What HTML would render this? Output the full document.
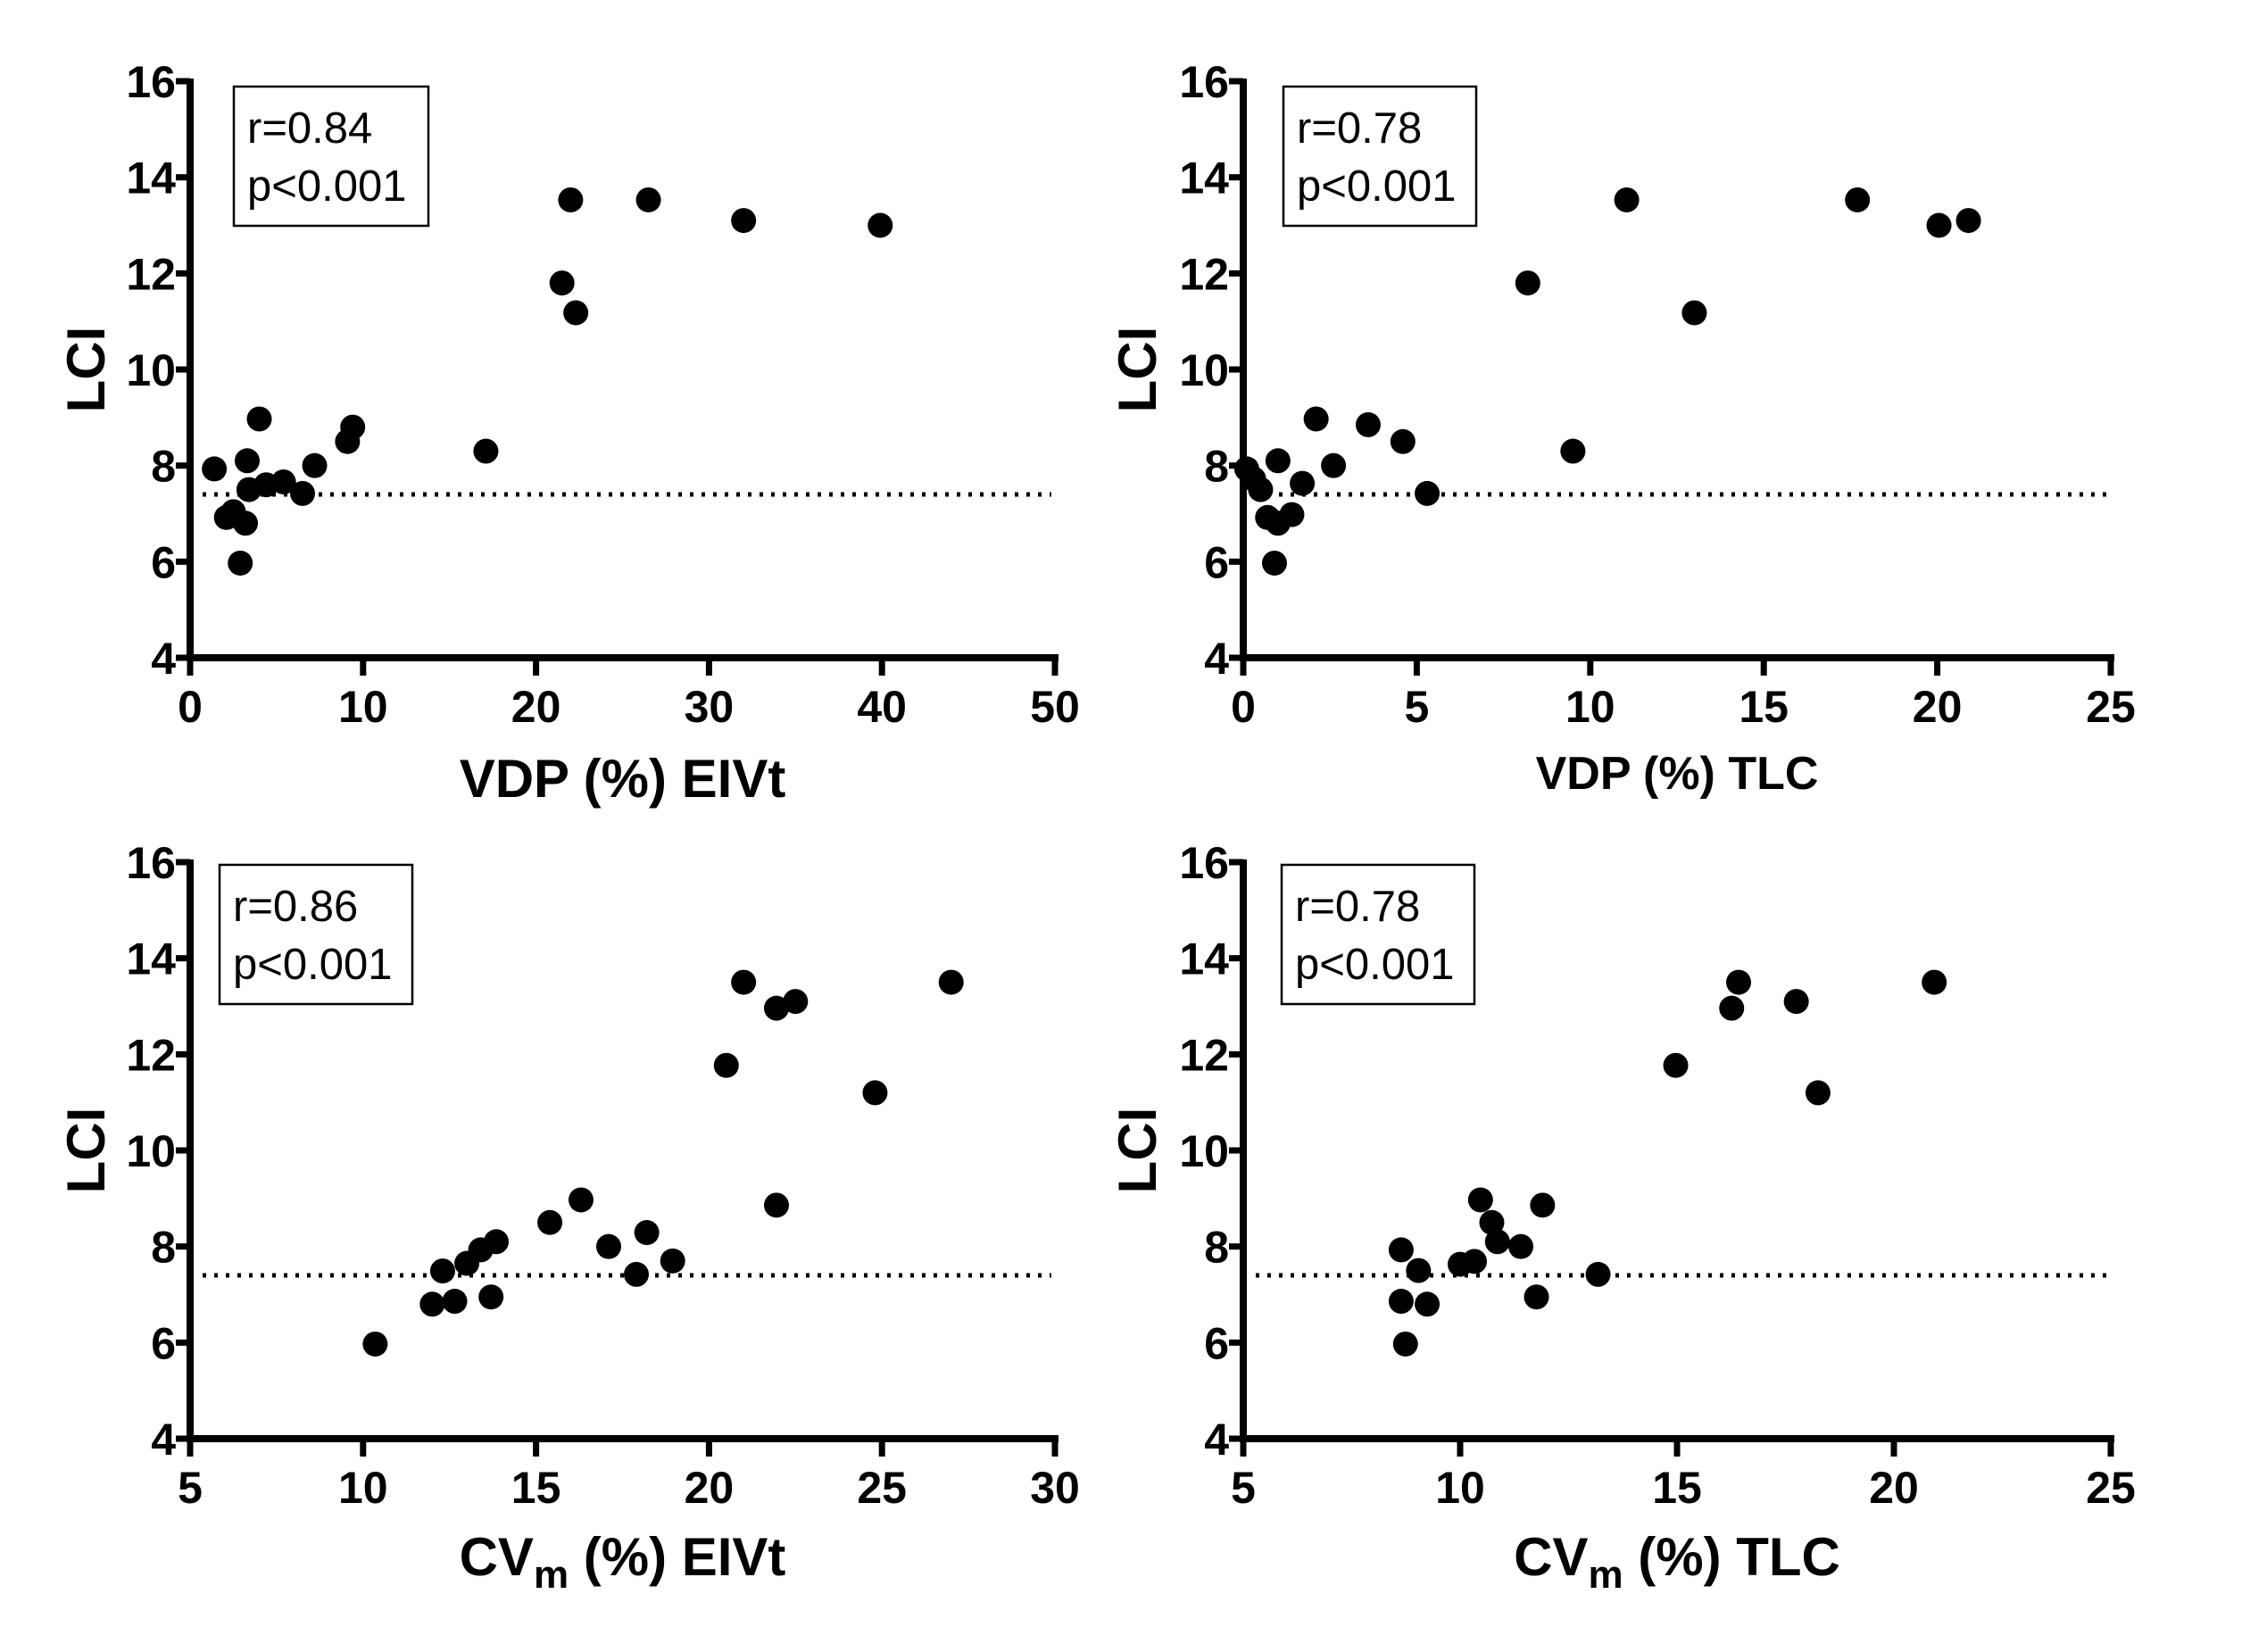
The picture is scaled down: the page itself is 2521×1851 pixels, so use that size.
<!DOCTYPE html>
<html><head><meta charset="utf-8"><style>
html,body{margin:0;padding:0;background:#fff;}
svg{display:block;font-family:"Liberation Sans",Arial,sans-serif;}
</style></head><body>
<svg id="fig" width="2521" height="1851" viewBox="0 0 2521 1851" xmlns="http://www.w3.org/2000/svg"></svg>
<script>
const tlX=[1.4,2.1,2.5,3.2,2.9,3.3,3.4,4.0,4.4,5.4,6.5,7.2,9.1,9.4,17.1,21.5,22.0,22.3,26.5,32.0,39.9];
const tlY=[7.93,6.92,7.04,6.8,5.97,8.1,7.5,8.97,7.6,7.66,7.42,8.0,8.5,8.8,8.3,11.8,13.53,11.18,13.53,13.1,13.0];
const trX=[0.1,0.3,0.5,0.7,1.0,0.9,1.0,1.4,1.7,2.1,2.6,3.6,4.6,5.3,8.2,9.5,11.05,13.0,17.7,20.05,20.9];
const trY=[7.93,7.72,7.5,6.92,6.8,5.97,8.1,6.98,7.63,8.97,8.0,8.85,8.5,7.42,11.8,8.3,13.53,11.18,13.53,13.0,13.1];
const blX=[10.35,12.0,12.3,12.65,13.0,13.4,13.7,13.85,15.4,16.3,17.1,17.9,18.2,18.95,20.5,21.0,21.95,21.95,22.5,24.8,27.0];
const blY=[5.97,6.8,7.49,6.86,7.65,7.93,6.95,8.1,8.5,8.97,8.0,7.42,8.29,7.7,11.77,13.5,12.96,8.86,13.1,11.2,13.5];
const brX=[8.64,8.64,8.74,9.04,9.24,10.0,10.33,10.47,10.73,10.86,11.4,11.76,11.9,13.18,14.97,16.26,16.42,17.75,18.25,20.93];
const brY=[7.93,6.86,5.97,7.5,6.8,7.63,7.69,8.97,8.5,8.1,8.0,6.95,8.86,7.42,11.77,12.96,13.5,13.1,11.2,13.5];
const yTicks=[4,6,8,10,12,14,16];
const xTicksTL=[0,10,20,30,40,50];
const xTicksTR=[0,5,10,15,20,25];
const xTicksBL=[5,10,15,20,25,30];
const xTicksBR=[5,10,15,20,25];
const refLCI=7.4;
const stats=[["r=0.84","p<0.001"],["r=0.78","p<0.001"],["r=0.86","p<0.001"],["r=0.78","p<0.001"]];

const NS="http://www.w3.org/2000/svg";
const svg=document.getElementById('fig');
function el(t,a,p){const e=document.createElementNS(NS,t);for(const k in a)e.setAttribute(k,a[k]);(p||svg).appendChild(e);return e;}

const panels=[
 {name:'vdp-eivt',x0:213,x1:1182,y0:737,y1:91,xmin:0,xmax:50,xt:xTicksTL,xs:tlX,ys:tlY,box:[262,97,218,156],title:'VDP (%) EIVt',sub:null,tfs:60,ty:893,ylx:96,st:stats[0]},
 {name:'vdp-tlc',x0:1393,x1:2365,y0:737,y1:91,xmin:0,xmax:25,xt:xTicksTR,xs:trX,ys:trY,box:[1438,97,216,156],title:'VDP (%) TLC',sub:null,tfs:52,ty:884,ylx:1274,st:stats[1]},
 {name:'cvm-eivt',x0:213,x1:1182,y0:1612,y1:966,xmin:5,xmax:30,xt:xTicksBL,xs:blX,ys:blY,box:[246,969,216,156],title:'CV',sub:'m',rest:' (%) EIVt',tfs:60,ty:1765,ylx:96,st:stats[2]},
 {name:'cvm-tlc',x0:1393,x1:2365,y0:1612,y1:966,xmin:5,xmax:25,xt:xTicksBR,xs:brX,ys:brY,box:[1436,969,216,156],title:'CV',sub:'m',rest:' (%) TLC',tfs:60,ty:1765,ylx:1274,st:stats[3]}
];

panels.forEach((p,i)=>{
  const g=el('g',{});
  
  
  const sx=v=>p.x0+(v-p.xmin)/(p.xmax-p.xmin)*(p.x1-p.x0);
  const sy=v=>p.y0+(v-4)/(16-4)*(p.y1-p.y0);
  const ya=el('line',{x1:p.x0,y1:sy(16)-3,x2:p.x0,y2:p.y0+4,stroke:'#000','stroke-width':8},g);
  
  
  const xa=el('line',{x1:p.x0-4,y1:p.y0,x2:p.x1+4,y2:p.y0,stroke:'#000','stroke-width':8},g);
  
  
  yTicks.forEach(t=>{
    el('line',{x1:p.x0-16,y1:sy(t),x2:p.x0,y2:sy(t),stroke:'#000','stroke-width':7},g);
    const tx=el('text',{x:p.x0-16,y:sy(t)+18,'text-anchor':'end','font-size':50,'font-weight':'bold'},g);
    tx.textContent=t;
    
    
  });
  p.xt.forEach(t=>{
    el('line',{x1:sx(t),y1:p.y0,x2:sx(t),y2:p.y0+20,stroke:'#000','stroke-width':7},g);
    const tx=el('text',{x:sx(t),y:p.y0+72,'text-anchor':'middle','font-size':50,'font-weight':'bold'},g);
    tx.textContent=t;
    
    
  });
  const rl=el('line',{x1:p.x0+14,y1:sy(refLCI),x2:p.x1-4,y2:sy(refLCI),stroke:'#000','stroke-width':5,'stroke-dasharray':'4 9'},g);
  
  
  p.xs.forEach((v,k)=>{
    const c=el('circle',{cx:sx(v),cy:sy(p.ys[k]),r:14,fill:'#000'},g);
    
    
  });
  const b=p.box;
  const br=el('rect',{x:b[0],y:b[1],width:b[2],height:b[3],fill:'#fff',stroke:'#000','stroke-width':2.5},g);
  
  
  const t1=el('text',{x:b[0]+15,y:b[1]+63,'font-size':49},g);
  t1.textContent=p.st[0];
  
  
  const t2=el('text',{x:b[0]+15,y:b[1]+128,'font-size':49},g);
  t2.textContent=p.st[1];
  
  
  const yl=el('text',{x:p.ylx,y:(p.y0+p.y1)/2,'text-anchor':'middle','font-size':60,'font-weight':'bold',transform:`rotate(-90 ${p.ylx} ${(p.y0+p.y1)/2}) translate(0 21)`},g);
  yl.textContent='LCI';
  
  
  const xt=el('text',{x:(p.x0+p.x1)/2,y:p.ty,'text-anchor':'middle','font-size':p.tfs,'font-weight':'bold'},g);
  
  
  if(p.sub){
    const a=el('tspan',{},xt);a.textContent=p.title;
    const s=el('tspan',{dy:14,'font-size':44},xt);s.textContent=p.sub;
    const r=el('tspan',{dy:-14},xt);r.textContent=p.rest;
  } else xt.textContent=p.title;
});
</script>
</body></html>
